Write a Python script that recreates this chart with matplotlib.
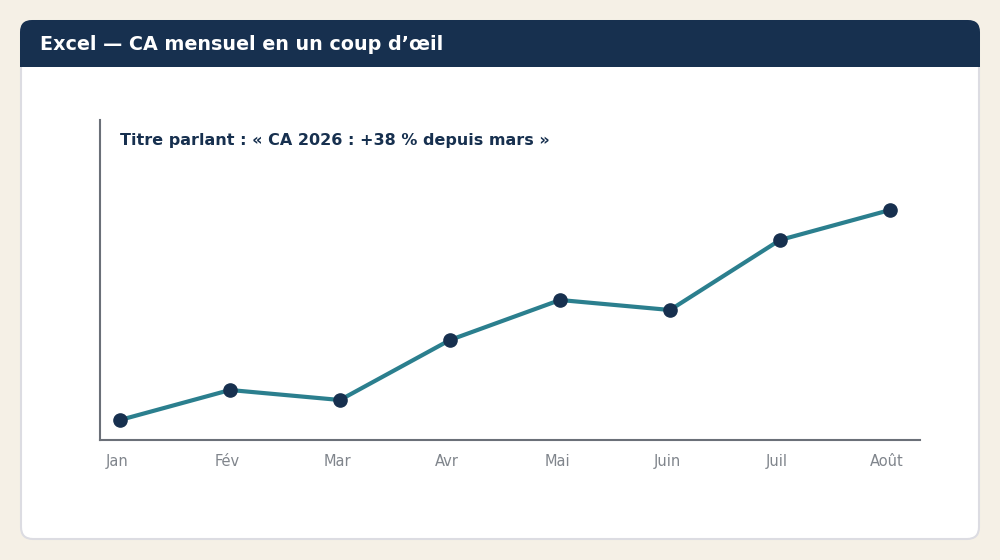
import matplotlib
matplotlib.use("Agg")
import matplotlib.pyplot as plt
import matplotlib.transforms as mtransforms
from matplotlib.patches import FancyBboxPatch, Rectangle

plt.rcParams["font.family"] = ["DejaVu Sans"]

# données (k€)
mois = ["Jan", "Fév", "Mar", "Avr", "Mai", "Juin", "Juil", "Août"]
ca = [10, 25, 20, 50, 70, 65, 100, 115]

navy = "#17304f"
teal = "#2b7f8e"
gris = "#6b7078"

fig = plt.figure(figsize=(10, 5.6), dpi=100)
fig.patch.set_facecolor("#f5f0e6")

# fond / carte en coordonnées pixels
bg = fig.add_axes([0, 0, 1, 1])
bg.set_xlim(0, 1000)
bg.set_ylim(560, 0)
bg.axis("off")

card = FancyBboxPatch((21, 21), 958, 518, boxstyle="round,pad=0,rounding_size=12",
                      facecolor="white", edgecolor="#dcdce2", linewidth=1.5)
bg.add_patch(card)
header = FancyBboxPatch((20, 20), 960, 47, boxstyle="round,pad=0,rounding_size=12",
                        facecolor=navy, edgecolor="none")
bg.add_patch(header)
bg.add_patch(Rectangle((20, 45), 960, 22, facecolor=navy, edgecolor="none"))
bg.text(40, 44, "Excel — CA mensuel en un coup d’œil", color="white",
        fontsize=13.8, fontweight="bold", va="center", ha="left")

# graphique
ax = fig.add_axes([0.1, 120 / 560, 0.82, 320 / 560])
ax.set_facecolor("none")
x = list(range(len(mois)))
ax.plot(x, ca, color=teal, linewidth=3, marker="o", markersize=9.5,
        markerfacecolor=navy, markeredgecolor=navy, zorder=3)
ax.set_xlim(-20 / 110, 7 + 30 / 110)
ax.set_ylim(0, 160)
ax.set_xticks(x)
ax.set_xticklabels(mois, color="#80858c", fontsize=10.5)
ax.tick_params(axis="x", length=0, pad=10)
shift = mtransforms.ScaledTranslation(-3 / 100, 0, fig.dpi_scale_trans)
for lab in ax.get_xticklabels():
    lab.set_transform(lab.get_transform() + shift)
ax.set_yticks([])
for s in ["top", "right"]:
    ax.spines[s].set_visible(False)
for s in ["left", "bottom"]:
    ax.spines[s].set_color(gris)
    ax.spines[s].set_linewidth(1.5)

ax.text(20 / 820, 1 - 20 / 320, "Titre parlant : « CA 2026 : +38 % depuis mars »",
        transform=ax.transAxes, color=navy, fontsize=11.5, fontweight="bold",
        va="center", ha="left")

fig.savefig("out.png", dpi=100, facecolor=fig.get_facecolor())
